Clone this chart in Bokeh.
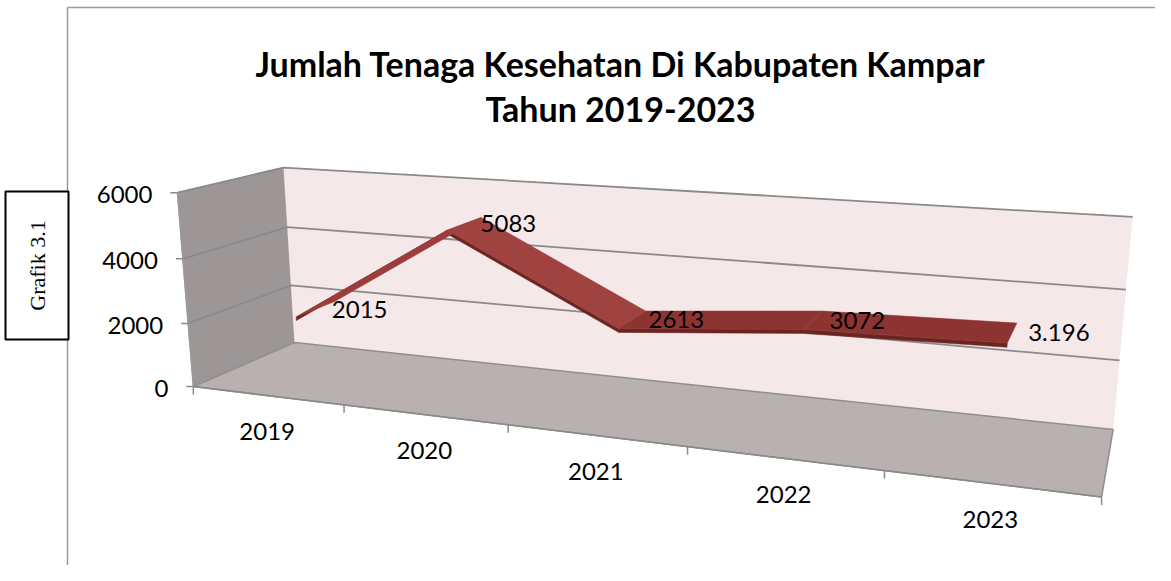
import numpy as np
from bokeh.plotting import figure
from bokeh.models import Range1d
from bokeh.core.properties import value
from bokeh.embed import file_html
from bokeh.resources import INLINE

# ---------------- data ----------------
years = ["2019", "2020", "2021", "2022", "2023"]
jumlah = [2015, 5083, 2613, 3072, 3196]
label_text = ["2015", "5083", "2613", "3072", "3.196"]
y_ticks = [0, 2000, 4000, 6000]
y_tick_labels = ["0", "2000", "4000", "6000"]
title_lines = ["Jumlah Tenaga Kesehatan Di Kabupaten Kampar", "Tahun 2019-2023"]
side_note = "Grafik 3.1"
y_max = 6000

# ---------------- 3D perspective camera (layout) ----------------
n_cat = len(years)
calib = [
    ((0, 0, 0), (293, 342)), ((0, 2000, 0), (291, 285)), ((0, 4000, 0), (287, 227)), ((0, 6000, 0), (283, 168)),
    ((5, 0, 0), (1113, 427)), ((5, 2000, 0), (1119, 360)), ((5, 4000, 0), (1126, 289)), ((5, 6000, 0), (1132, 217)),
    ((0, 0, 1), (193, 387)), ((1, 0, 1), (344, 405)), ((2, 0, 1), (508, 425)), ((3, 0, 1), (687, 446)),
    ((4, 0, 1), (883, 471)), ((5, 0, 1), (1101, 497)),
    ((0, 2000, 1), (188, 321)), ((0, 4000, 1), (183, 257)), ((0, 6000, 1), (176, 192)),
]


def fit_camera(pairs):
    rows = []
    for (X, Y, Z), (u, v) in pairs:
        Xn, Yn, Zn = X / 5.0, Y / 6000.0, Z
        un, vn = (u - 600) / 500.0, (v - 300) / 500.0
        rows.append([Xn, Yn, Zn, 1, 0, 0, 0, 0, -un * Xn, -un * Yn, -un * Zn, -un])
        rows.append([0, 0, 0, 0, Xn, Yn, Zn, 1, -vn * Xn, -vn * Yn, -vn * Zn, -vn])
    _, _, vt = np.linalg.svd(np.array(rows, dtype=float))
    return vt[-1].reshape(3, 4)


CAM = fit_camera(calib)


def proj(X, Y, Z):
    h = CAM @ np.array([X / 5.0, Y / 6000.0, Z, 1.0])
    return h[0] / h[2] * 500 + 600, h[1] / h[2] * 500 + 300


def poly(pts):
    xy = [proj(*p) for p in pts]
    return [a for a, _ in xy], [b for _, b in xy]


W, H = 1155, 565
p = figure(width=W, height=H, x_range=Range1d(0, W), y_range=Range1d(H, 0),
           output_backend="svg", toolbar_location=None, min_border=0)
p.axis.visible = False
p.grid.visible = False
p.outline_line_color = None
p.background_fill_color = "white"
p.border_fill_color = "white"

# chart area border
p.line([67, 67], [7, 581], line_color="#9a9a9a", line_width=1.5)
p.line([67, 1171], [7, 7], line_color="#9a9a9a", line_width=1.5)

# walls and floor
xs, ys = poly([(0, 0, 0), (0, y_max, 0), (0, y_max, 1), (0, 0, 1)])
p.patch(xs, ys, fill_color="#9d9696", line_color="#a9a3a3", line_width=1)
xs, ys = poly([(0, 0, 0), (n_cat, 0, 0), (n_cat, y_max, 0), (0, y_max, 0)])
p.patch(xs, ys, fill_color="#f5e8e9", line_color=None)
xs, ys = poly([(0, 0, 0), (n_cat, 0, 0), (n_cat, 0, 1), (0, 0, 1)])
p.patch(xs, ys, fill_color="#b9b0b0", line_color="#8f8f8f", line_width=1.5)

# gridlines on side and back wall
for v in y_ticks[1:]:
    xs, ys = poly([(0, v, 1), (0, v, 0), (n_cat, v, 0)])
    p.line(xs, ys, line_color="#8a8a8a", line_width=1.8)

# value axis
xs, ys = poly([(0, 0, 1), (0, y_max, 1)])
p.line(xs, ys, line_color="#9a9a9a", line_width=1.5)
tx, ty = [], []
for v in y_ticks:
    x0, y0 = proj(0, v, 1)
    p.line([x0 - 7, x0], [y0, y0], line_color="#8a8a8a", line_width=1.5)
    tx.append(x0 - 25)
    ty.append(y0 + 2)
p.text(x=tx, y=ty, text=y_tick_labels, text_font=value("Lato"), text_font_size="24px",
       text_align="right", text_baseline="middle", text_color="black")

# category axis
xs, ys = poly([(0, 0, 1), (n_cat, 0, 1)])
p.line(xs, ys, line_color="#8a8a8a", line_width=1.5)
for i in range(n_cat + 1):
    x0, y0 = proj(i, 0, 1)
    p.line([x0, x0], [y0, y0 + 8], line_color="#8a8a8a", line_width=1.5)
cx, cy = [], []
for i in range(n_cat):
    x0, y0 = proj(i + 0.5, 0, 1)
    cx.append(x0)
    cy.append(y0 + 36)
p.text(x=cx, y=cy, text=years, text_font=value("Lato"), text_font_size="24px",
       text_align="center", text_baseline="middle", text_color="black")

# 3D ribbon line
z1, z2, thick = 0.28, 0.68, 110
for i in range(n_cat - 1):
    a, b = jumlah[i], jumlah[i + 1]
    xs, ys = poly([(i + 0.5, a, z2), (i + 1.5, b, z2), (i + 1.5, b - thick, z2), (i + 0.5, a - thick, z2)])
    p.patch(xs, ys, fill_color="#6c2423", line_color="#6c2423", line_width=0.5)
for i in range(n_cat - 1):
    a, b = jumlah[i], jumlah[i + 1]
    slope = b - a
    if slope > 1500:
        col = "#9c3d3b"
    elif slope < -1500:
        col = "#a0423f"
    else:
        col = "#8d3433"
    xs, ys = poly([(i + 0.5, a, z1), (i + 1.5, b, z1), (i + 1.5, b, z2), (i + 0.5, a, z2)])
    p.patch(xs, ys, fill_color=col, line_color=col, line_width=0.5)

# data labels
lx, ly = [], []
for i in range(n_cat):
    x0, y0 = proj(i + 0.5, jumlah[i], (z1 + z2) / 2)
    lx.append(x0)
    ly.append(y0)
p.text(x=lx, y=ly, text=label_text, x_offset=16, text_font=value("Lato"), text_font_size="24px",
       text_align="left", text_baseline="middle", text_color="black")

# title
p.text(x=[620, 620], y=[63, 108], text=title_lines, text_font=value("Lato"), text_font_size="34px",
       text_font_style="bold", text_align="center", text_baseline="alphabetic", text_color="black")

# side note box
p.quad(left=[5], right=[68], top=[191], bottom=[339], fill_color="white", line_color="black", line_width=2)
p.text(x=[37], y=[265], text=[side_note], angle=np.pi / 2, text_font=value("Liberation Serif"),
       text_font_size="22px", text_align="center", text_baseline="middle", text_color="black")

open("out.html", "w").write(file_html(p, INLINE))
